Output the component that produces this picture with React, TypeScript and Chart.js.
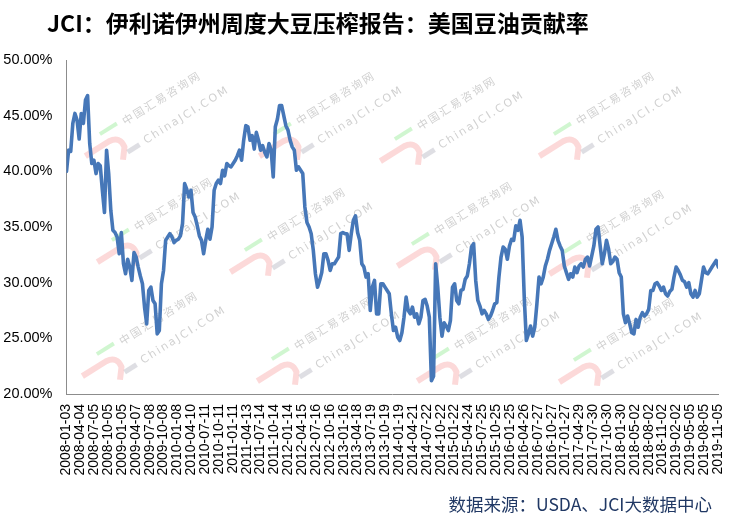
import React, { useEffect, useRef } from "react";
import { Chart, registerables } from "chart.js";

Chart.register(...registerables);

const TITLE = "JCI：伊利诺伊州周度大豆压榨报告：美国豆油贡献率";
const SOURCE = "数据来源：USDA、JCI大数据中心";
const WATERMARK_CN = "中国汇易咨询网";
const WATERMARK_EN = "ChinaJCI.COM";

// Axis tick labels (one every 92 days, starting 2008-01-03)
const xTickLabels = [
  "2008-01-03", "2008-04-04", "2008-07-05", "2008-10-05", "2009-01-05", "2009-04-07",
  "2009-07-08", "2009-10-08", "2010-01-08", "2010-04-10", "2010-07-11", "2010-10-11",
  "2011-01-11", "2011-04-13", "2011-07-14", "2011-10-14", "2012-01-14", "2012-04-15",
  "2012-07-16", "2012-10-16", "2013-01-16", "2013-04-18", "2013-07-19", "2013-10-19",
  "2014-01-19", "2014-04-21", "2014-07-22", "2014-10-22", "2015-01-22", "2015-04-24",
  "2015-07-25", "2015-10-25", "2016-01-25", "2016-04-26", "2016-07-27", "2016-10-27",
  "2017-01-27", "2017-04-29", "2017-07-30", "2017-10-30", "2018-01-30", "2018-05-02",
  "2018-08-02", "2018-11-02", "2019-02-02", "2019-05-05", "2019-08-05", "2019-11-05",
];
const TICK_STEP_DAYS = 92;
const SAMPLE_STEP_DAYS = 14; // one reading every two weeks

// Soybean oil contribution (%), read every two weeks
const share2008_2009 = [
  40.0, 41.9, 41.8, 44.3, 45.2, 44.6, 42.9, 45.2, 44.3, 46.4,
  46.8, 42.5, 40.7, 41.0, 39.8, 40.7, 40.5, 38.3, 36.3, 41.9,
  39.8, 36.5, 34.7, 34.5, 34.1, 32.6, 34.5, 31.7, 30.8, 32.1,
  31.4, 30.2, 32.7, 32.3, 31.4, 30.6, 29.9, 27.8, 26.3, 29.3,
  29.6, 28.4, 28.1, 25.4, 25.7, 29.9, 31.1, 33.8, 34.1, 34.4,
  34.1, 33.6,
];
const share2010_2011 = [
  33.8, 33.9, 34.2, 35.3, 38.9, 38.4, 37.7, 38.3, 36.3, 35.9,
  35.1, 34.2, 33.8, 32.6, 33.8, 34.8, 33.9, 35.0, 38.3, 38.9,
  39.2, 38.9, 40.1, 39.6, 40.7, 40.5, 40.4, 40.7, 41.0, 41.4,
  41.9, 41.0, 42.8, 44.1, 44.0, 42.8, 43.2, 42.0, 43.5, 42.8,
  41.9, 42.3, 41.7, 41.3, 42.5, 41.9, 39.5, 44.0, 44.7, 45.9,
  45.9, 45.0,
];
const share2012_2013 = [
  44.1, 43.7, 42.8, 42.2, 41.9, 40.1, 40.4, 40.1, 39.8,
  36.8, 35.4, 35.0, 34.4, 32.9, 30.8, 29.6, 30.2, 30.9, 32.6,
  32.6, 32.0, 31.1, 31.7, 31.7, 32.0, 32.3, 34.4, 34.5, 34.4,
  34.4, 32.9, 34.4, 35.6, 36.0, 34.5, 33.8, 31.7, 31.4, 30.5,
  30.8, 27.5, 29.6, 30.2, 27.2, 27.2, 29.9, 29.9, 29.6, 29.3,
  29.0, 27.2, 25.7,
];
const share2014_2015 = [
  26.0, 25.1, 24.8, 25.5, 26.9, 28.7, 27.5, 27.2, 27.8,
  26.9, 27.2, 26.3, 26.9, 28.4, 28.5, 27.9, 26.9, 21.2, 21.6,
  31.7, 29.6, 26.9, 25.2, 26.4, 26.1, 25.7, 26.6, 29.6, 29.9,
  28.4, 28.1, 29.3, 29.4, 30.3, 30.6, 31.7, 33.2, 33.5, 30.2,
  28.4, 27.9, 27.2, 27.5, 27.2, 26.7, 27.0, 27.5, 28.1, 28.2,
  30.5, 32.3, 33.2,
];
const share2016_2017 = [
  33.0, 32.1, 33.3, 33.9, 33.8, 35.1, 34.7, 35.6, 34.1, 28.7,
  24.8, 25.4, 26.1, 25.2, 26.0, 28.1, 30.5, 29.9, 30.5, 31.5,
  32.1, 32.9, 33.5, 34.1, 34.8, 33.8, 33.3, 32.9, 31.5, 30.9,
  30.3, 30.8, 30.5, 31.4, 30.9, 31.5, 31.7, 31.4, 32.1, 32.3,
  31.5, 32.4, 33.3, 34.8, 35.0, 33.3, 31.7, 32.6, 33.8, 33.0,
  31.7, 31.9,
];
const share2018_2019 = [
  32.3, 32.1, 30.9, 30.5, 27.2, 26.4, 27.0, 26.3, 25.5,
  25.4, 26.7, 26.0, 26.9, 27.3, 27.0, 27.2, 27.6, 29.3, 29.3,
  29.9, 30.0, 29.7, 29.3, 29.6, 29.0, 28.8, 29.2, 29.4, 30.5,
  31.4, 31.1, 30.7, 30.2, 30.1, 29.6, 30.0, 29.0, 28.7, 29.3,
  28.7, 29.0, 30.2, 31.4, 30.9, 30.8, 31.1, 31.4, 31.7, 32.0,
  31.4,
];

const yTicks = [20, 25, 30, 35, 40, 45, 50];

const W = 749;
const H = 518;

// watermark stamp anchors (decoration only)
const stampSpots = [
  [123, 122], [297, 122], [418, 127], [577, 122],
  [135, 228], [268, 238], [435, 232], [587, 240],
  [120, 342], [295, 347], [455, 347], [597, 348],
];

function drawStamp(ctx: CanvasRenderingContext2D, x: number, y: number) {
  ctx.save();
  ctx.translate(x, y);
  ctx.rotate((-32 * Math.PI) / 180);
  // red hook
  ctx.strokeStyle = "rgba(248,170,170,0.45)";
  ctx.lineWidth = 6;
  ctx.lineCap = "butt";
  ctx.lineJoin = "round";
  ctx.beginPath();
  ctx.moveTo(-50, 9);
  ctx.lineTo(-22, 9);
  ctx.quadraticCurveTo(-10, 10, -12, 22);
  ctx.lineTo(-20, 32);
  ctx.stroke();
  // green leaf
  ctx.strokeStyle = "rgba(150,235,150,0.45)";
  ctx.lineWidth = 4;
  ctx.beginPath();
  ctx.moveTo(-26, -2);
  ctx.lineTo(-6, -2);
  ctx.stroke();
  // gray bar
  ctx.strokeStyle = "rgba(190,190,200,0.5)";
  ctx.lineWidth = 5;
  ctx.beginPath();
  ctx.moveTo(-12, 28);
  ctx.lineTo(2, 28);
  ctx.stroke();
  // texts
  ctx.fillStyle = "rgba(150,150,150,0.45)";
  ctx.textBaseline = "middle";
  ctx.textAlign = "left";
  (ctx as any).letterSpacing = "2px";
  ctx.font = '11px "Noto Sans CJK SC"';
  ctx.fillText(WATERMARK_CN, 0, 0);
  ctx.font = '11px "DejaVu Sans"';
  ctx.fillText(WATERMARK_EN, 8, 28);
  ctx.restore();
}

export default function App() {
  const ref = useRef<HTMLCanvasElement | null>(null);

  useEffect(() => {
    if (!ref.current) return;
    const values = [
      ...share2008_2009,
      ...share2010_2011,
      ...share2012_2013,
      ...share2014_2015,
      ...share2016_2017,
      ...share2018_2019,
    ];
    const points = values.map((v, i) => ({ x: i * SAMPLE_STEP_DAYS, y: v }));
    const xMax = (xTickLabels.length - 1) * TICK_STEP_DAYS;

    const textPlugin = {
      id: "texts",
      beforeDatasetsDraw(chart: any) {
        const ctx = chart.ctx as CanvasRenderingContext2D;
        for (const [sx, sy] of stampSpots) drawStamp(ctx, sx, sy);
      },
      afterDraw(chart: any) {
        const ctx = chart.ctx as CanvasRenderingContext2D;
        ctx.save();
        ctx.fillStyle = "#000000";
        ctx.textBaseline = "middle";
        ctx.textAlign = "left";
        ctx.font = 'bold 23px "Noto Sans CJK SC"';
        ctx.fillText(TITLE, 47, 23);
        ctx.fillStyle = "#203864";
        ctx.textAlign = "right";
        ctx.font = '17.5px "Noto Sans CJK SC"';
        ctx.fillText(SOURCE, 712, 504);
        ctx.restore();
      },
    };

    const chart = new Chart(ref.current, {
      type: "line",
      data: {
        datasets: [
          {
            data: points,
            borderColor: "#4677b8",
            borderWidth: 3.6,
            pointRadius: 0,
            tension: 0,
            borderJoinStyle: "round",
            borderCapStyle: "round",
            fill: false,
          },
        ],
      },
      options: {
        animation: false,
        responsive: true,
        maintainAspectRatio: false,
        layout: { padding: { top: 60, right: 31, bottom: 0, left: 0 } },
        plugins: {
          legend: { display: false },
          tooltip: { enabled: false },
          title: { display: false },
        },
        scales: {
          x: {
            type: "linear",
            min: 0,
            max: xMax,
            grid: { display: false, drawTicks: false },
            border: { display: true, color: "#8c8c8c", width: 1 },
            afterBuildTicks: (s: any) => {
              s.ticks = xTickLabels.map((_, k) => ({ value: k * TICK_STEP_DAYS }));
            },
            afterFit: (s: any) => {
              s.height = H - 394;
            },
            ticks: {
              autoSkip: false,
              maxRotation: 90,
              minRotation: 90,
              padding: 10,
              color: "#000000",
              font: { family: "Liberation Sans", size: 14 },
              callback: (v: any) => xTickLabels[Math.round(Number(v) / TICK_STEP_DAYS)] ?? "",
            },
          },
          y: {
            min: 20,
            max: 50,
            grid: { display: false, drawTicks: false },
            border: { display: true, color: "#8c8c8c", width: 1 },
            afterBuildTicks: (s: any) => {
              s.ticks = yTicks.map((v) => ({ value: v }));
            },
            afterFit: (s: any) => {
              s.width = 66.5;
            },
            ticks: {
              padding: 14,
              color: "#000000",
              font: { family: "Liberation Sans", size: 14.5 },
              callback: (v: any) => Number(v).toFixed(2) + "%",
            },
          },
        },
      },
      plugins: [textPlugin],
    });
    return () => chart.destroy();
  }, []);

  return (
    <div style={{ position: "fixed", left: 0, top: 0, width: W, height: H, background: "#ffffff" }}>
      <canvas ref={ref} />
    </div>
  );
}
